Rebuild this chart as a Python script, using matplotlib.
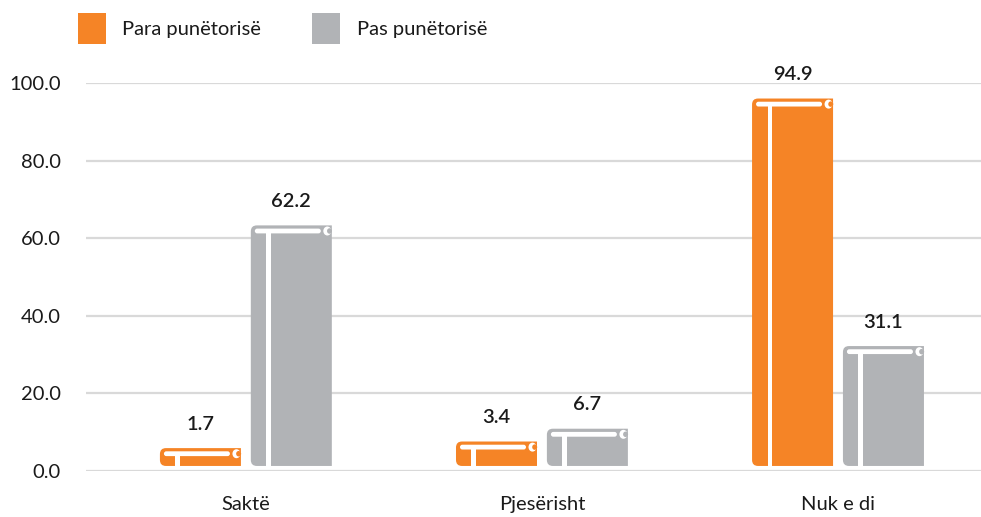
import matplotlib
matplotlib.use("Agg")
import matplotlib.pyplot as plt
from matplotlib.path import Path
from matplotlib.patches import PathPatch, Rectangle, Ellipse

# data
categories = ["Saktë", "Pjesërisht", "Nuk e di"]
para = [1.7, 3.4, 94.9]
pas = [62.2, 6.7, 31.1]
series_names = ["Para punëtorisë", "Pas punëtorisë"]
yticks = [0, 20, 40, 60, 80, 100]

ORANGE = "#F58426"
GRAY = "#B1B3B6"
GRID = "#D9D9D9"
TEXT = "#1a1a1a"
FS = 14.5

W, H, DPI = 981, 517, 100
plt.rcParams["font.family"] = ["Lato", "DejaVu Sans"]

fig = plt.figure(figsize=(W / DPI, H / DPI), dpi=DPI)
# axes box in pixels (y measured from the top)
AX_L, AX_R, AX_B, AX_T = 86, 981, 471, 83
ax = fig.add_axes([AX_L / W, (H - AX_B) / H, (AX_R - AX_L) / W, (AX_B - AX_T) / H])
XLIM = (-0.54, 2.483)
ax.set_xlim(*XLIM)
ax.set_ylim(0, 100)
sx = (XLIM[1] - XLIM[0]) / (AX_R - AX_L)   # data units per pixel
sy = 100 / (AX_B - AX_T)


def rounded_path(x0, x1, y0, y1, r, corners):
    rx, ry = r * sx, r * sy
    spec = {
        "br": ((x1, y0), (x1 - rx, y0), (x1, y0 + ry)),
        "tr": ((x1, y1), (x1, y1 - ry), (x1 - rx, y1)),
        "tl": ((x0, y1), (x0 + rx, y1), (x0, y1 - ry)),
        "bl": ((x0, y0), (x0, y0 + ry), (x0 + rx, y0)),
    }
    start = spec["bl"][2] if "bl" in corners else spec["bl"][0]
    verts, codes = [start], [Path.MOVETO]
    for key in ["br", "tr", "tl", "bl"]:
        c, before, after = spec[key]
        if key in corners:
            verts += [before, c, after]
            codes += [Path.LINETO, Path.CURVE3, Path.CURVE3]
        else:
            verts.append(c)
            codes.append(Path.LINETO)
    verts.append(start)
    codes.append(Path.CLOSEPOLY)
    return Path(verts, codes)


def draw_book(xc, width, value, color):
    base = 1.3
    # short bars are padded so the book cover stays readable
    top = value + (4.2 if value < 10 else 1.1)
    x0, x1 = xc - width / 2, xc + width / 2
    ax.add_patch(PathPatch(rounded_path(x0, x1, base, top, 6, {"bl", "tl"}),
                           fc=color, ec="none"))
    ax.add_patch(PathPatch(rounded_path(x0 + 4 * sx, x1 - 11 * sx, top - 8 * sy,
                                        top - 3.2 * sy, 2.4, {"bl", "br", "tl", "tr"}),
                           fc="white", ec="none"))
    ax.add_patch(Rectangle((x0 + 15.5 * sx, base), 4.2 * sx, top - 7 * sy - base,
                           fc="white", ec="none"))
    ax.add_patch(Ellipse((x1 - 4.5 * sx, top - 5.6 * sy), 8 * sx, 9 * sy,
                         fc="white", ec="none"))
    ax.add_patch(Ellipse((x1 - 2.3 * sx, top - 5.6 * sy), 5 * sx, 5.5 * sy,
                         fc=color, ec="none"))
    ax.annotate(f"{value:.1f}", (xc, top), xytext=(0, 24 * 0.72),
                textcoords="offset points", ha="center", va="center",
                fontsize=FS, fontweight="semibold", color=TEXT)


bar_w = 0.2736
off = 0.1535
for i in range(len(categories)):
    draw_book(i - off, bar_w, para[i], ORANGE)
    draw_book(i + off, bar_w, pas[i], GRAY)

ax.set_yticks(yticks, [f"{t:.1f}" for t in yticks])
ax.set_xticks(range(len(categories)), categories)
ax.tick_params(axis="y", length=0, pad=18, labelsize=FS, labelcolor=TEXT)
ax.tick_params(axis="x", length=0, pad=18, labelsize=FS, labelcolor=TEXT)
ax.yaxis.grid(True, color=GRID, lw=1.6)
ax.set_axisbelow(True)
for s in ax.spines.values():
    s.set_visible(False)

# legend
for (sq_x, txt_x), name, col in zip([(78, 122), (312, 357)], series_names, [ORANGE, GRAY]):
    fig.add_artist(Rectangle((sq_x / W, 1 - 44 / H), 28 / W, 31 / H,
                             transform=fig.transFigure, fc=col, ec="none"))
    fig.text(txt_x / W, 1 - 29 / H, name, ha="left", va="center",
             fontsize=FS, color=TEXT)

fig.savefig("out.png", dpi=DPI)
